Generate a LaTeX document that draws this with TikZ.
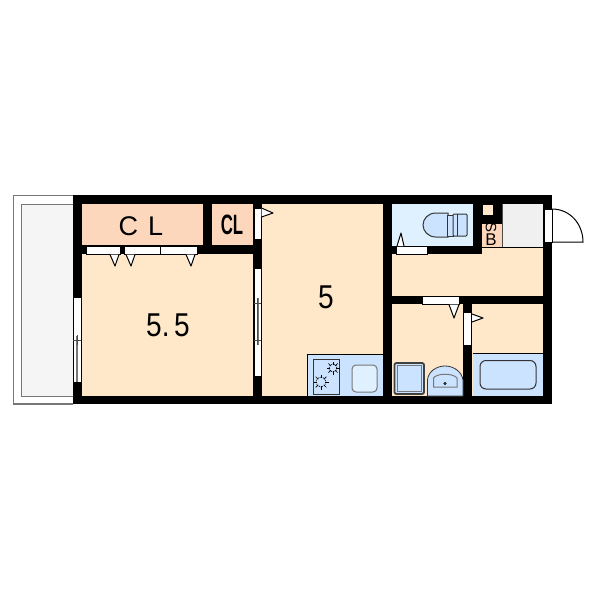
\documentclass[tikz,border=0pt]{standalone}
\usepackage{fontspec}
\setmainfont{Liberation Sans}
\usetikzlibrary{calc}

\definecolor{floorc}{HTML}{FFE7C9}
\definecolor{closetc}{HTML}{FDD7BC}
\definecolor{wetc}{HTML}{CBE3FF}
\definecolor{wclc}{HTML}{DFF0FF}
\definecolor{grayc}{HTML}{F5F5F5}
\definecolor{storec}{HTML}{F0F0F0}
\definecolor{linec}{HTML}{777777}

\tikzset{
	wall/.style={fill=black},
	opening/.style={fill=white,draw=black,line width=0.5pt},
	fixture/.style={fill=wetc,draw=black!80,line width=1pt},
	swing/.style={fill=white,draw=black,line width=1pt,line join=round},
	roomlabel/.style={inner sep=0pt,font=\fontsize{#1}{#1}\selectfont},
	roomlabel/.default=32,
}

\begin{document}
\begin{tikzpicture}[x=1pt,y=-1pt]
	\useasboundingbox (0,0) rectangle (600,600);
	\fill[white] (0,0) rectangle (600,600);

	% balcony
	\draw[linec,line width=1.2pt] (73,195.5) -- (13.5,195.5) -- (13.5,404) -- (73,404);
	\draw[linec,fill=grayc,line width=1pt] (73,204) -- (21,204) -- (21,396) -- (73,396);

	% floors
	\fill[floorc] (78,200) rectangle (548,400);
	\fill[closetc] (81,204) rectangle (203,245);
	\fill[closetc] (212,204) rectangle (253,245);
	\fill[wclc] (392,204) rectangle (473,246);
	\fill[closetc] (482,204) rectangle (502,247);
	\fill[storec] (502,204) rectangle (543,247);
	\draw[black,line width=0.7pt] (482,247) -- (543,247);
	\draw[black!70,line width=0.7pt] (502,204) -- (502,247);
	\node[roomlabel=15,rotate=-90] (lblS) at (491,227) {S};
	\node[roomlabel=17] (lblB) at (491,239.5) {B};

	% walls
	\foreach \xa/\ya/\xb/\yb in {73/195/552/204, 73/396/552/404, 73/195/81.5/404, 543/195/552/404,
		81/245/253/254, 203/195/212/254, 253/195/261.5/404, 383/195/392/404,
		392/246/482/254, 473/195/482/254, 473/195/502/224, 383/296/552/304, 463/296/472/404}
		\fill[wall] (\xa,\ya) rectangle (\xb,\yb);
	\fill[floorc] (483,205) rectangle (493,215);

	% sliding doors and windows
	\foreach \xa/\ya/\xb/\yb in {86/246/120/254, 124/246/160/254, 160/246/197/254, 254/208/261/239,
		396/246/427/254, 544/209/552/242, 422/296/459/304, 463/312/471/345}
		\draw[opening] (\xa,\ya) rectangle (\xb,\yb);
	\foreach \xa/\ya/\xb/\yb in {73/297/81/382, 254/268/261/376} {
		\fill[white] (\xa,\ya) rectangle (\xb,\yb);
		\draw[black,line width=0.6pt] (\xa,\ya) rectangle (\xb,\yb);
	}
	\fill[linec] (76,336) rectangle (78,382);
	\fill[linec] (256.5,298) rectangle (258.5,345);
	\draw[black!70,line width=0.6pt] (73,340) -- (81,340) (77,335) -- (77,345);
	\draw[black!70,line width=0.6pt] (254,303) -- (261,303) (254,340) -- (261,340) (257,298) -- (257,345);

	% door marks
	\foreach \xa/\xb/\xc in {110/119/115, 126/135/131, 186/195/191}
		\draw[swing] (\xa,254.5) -- (\xc,266) -- (\xb,254.5);
	\draw[swing] (449,304.5) -- (454,318) -- (459,304.5);
	\draw[swing] (397,246) -- (401,233) -- (404,246);
	\draw[swing] (261.5,208) -- (273,213) -- (261.5,217);
	\draw[swing] (472,314) -- (483,318) -- (472,322);

	% entrance door
	\draw[black,line width=1pt] (552,209) .. controls (570,209) and (583,224) .. (583,242) -- (552,242);

	% kitchen
	\fill[wetc] (307,354) rectangle (383,396);
	\draw[black,line width=0.8pt] (307,396) -- (307,354) -- (383,354);
	\draw[fixture] (313,359) rectangle (339,394);
	\draw[linec,fill=wclc,line width=1pt,rounded corners=4pt] (352,365) rectangle (377,392);
	\foreach \bx/\by/\br in {333/368/4, 321/382/5} {
		\draw[black,line width=0.8pt,densely dotted] (\bx,\by) circle (\br);
		\foreach \ang in {0,45,...,315}
			\draw[black,line width=0.7pt] (\bx,\by) ++(\ang:\br-1) -- ++(\ang:3.5);
	}

	% toilet
	\draw[fixture] (448,213) -- (436,213) .. controls (428,213) and (423,219) .. (423,225)
		.. controls (423,231) and (428,237) .. (436,237) -- (448,237) -- cycle;
	\draw[fixture] (447,215) rectangle (453,236);
	\draw[fixture,rounded corners=1pt] (453,214) rectangle (467,236);
	\draw[black!80,line width=0.7pt] (457,214) -- (457,236);

	% washroom
	\draw[fill=wetc,draw=black!75,line width=1.8pt,rounded corners=2pt] (394.5,363) rectangle (424,394);
	\draw[linec,line width=0.6pt] (397,365.5) rectangle (421.5,391.5);
	\draw[fixture,line width=0.8pt] (427.5,396) -- (427.5,380) .. controls (428,372) and (436,366) .. (445,366)
		.. controls (454,366) and (462,372) .. (463,380) -- (463,396) -- cycle;
	\draw[linec,line width=1pt] (433.5,387) -- (433.5,378) .. controls (437,373) and (453,373) .. (457,378)
		-- (457,387) -- cycle;
	\draw[black,fill=white,line width=0.7pt] (445,383.5) circle (1.2);

	% bath
	\fill[wetc] (472.5,353) rectangle (543,396);
	\draw[black,line width=0.8pt] (472.5,353) -- (543,353);
	\draw[fixture,rounded corners=6pt] (480,360.5) rectangle (536,389);

	% room labels
	\node[roomlabel=27] (lblCL) at (141,226) {C\hspace{10pt}L};
	\node[roomlabel=28] (lblCLs) at (232,225) {\textbf{\scalebox{0.6}[1]{CL}}};
	\node[roomlabel=33] (lblMain) at (168,325) {\scalebox{0.85}[1]{5.\,5}};
	\node[roomlabel=33] (lblDK) at (326,297) {\scalebox{0.85}[1]{5}};
\end{tikzpicture}
\end{document}
